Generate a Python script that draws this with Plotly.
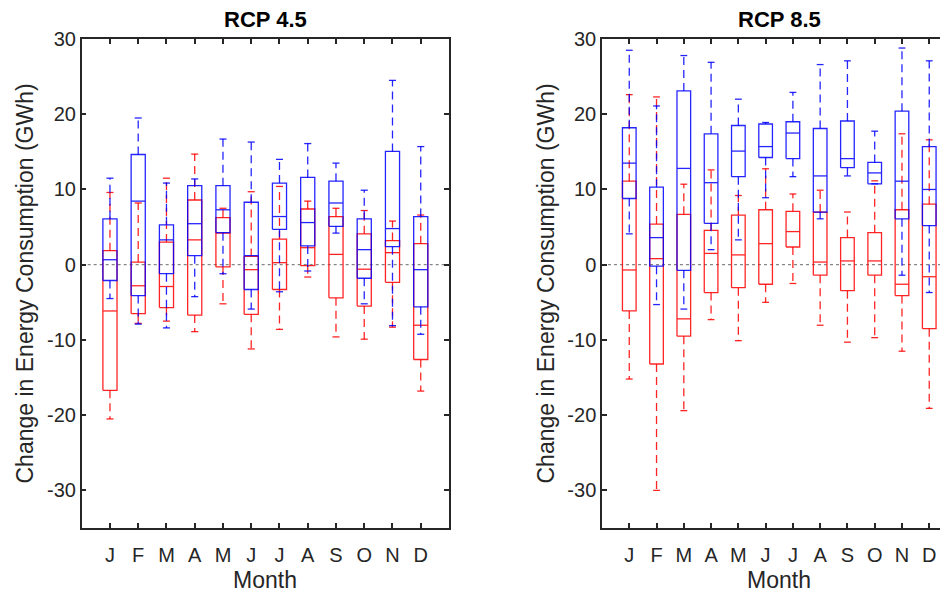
import plotly.graph_objects as go

months = ["J", "F", "M", "A", "M", "J", "J", "A", "S", "O", "N", "D"]

# RCP 4.5 - blue series (lower whisker, Q1, median, Q3, upper whisker)
rcp45_blue_lo  = [-4.5, -7.9, -8.4, -4.25, -1.2, -5.9, -3.6, -0.84, 4.2, -5.2, -8.1, -9.25]
rcp45_blue_q1  = [-2.1, -4.1, -1.2, 1.2, 4.25, -3.3, 4.7, 2.5, 5.1, -1.8, 2.4, -5.6]
rcp45_blue_med = [0.66, 8.45, 3.3, 5.45, 7.3, 1.2, 6.4, 5.6, 8.2, 2.0, 4.8, -0.66]
rcp45_blue_q3  = [6.1, 14.65, 5.3, 10.5, 10.5, 8.3, 10.85, 11.6, 11.1, 6.1, 15.05, 6.4]
rcp45_blue_hi  = [11.5, 19.5, 10.85, 11.4, 16.7, 16.3, 14.0, 16.1, 13.5, 9.9, 24.5, 15.7]

# RCP 4.5 - red series
rcp45_red_lo  = [-20.5, -7.8, -7.5, -8.9, -5.2, -11.2, -8.6, -1.64, -9.6, -9.9, -8.3, -16.8]
rcp45_red_q1  = [-16.7, -6.5, -5.7, -6.7, -0.3, -6.6, -3.3, -0.13, -4.4, -5.5, -2.35, -12.6]
rcp45_red_med = [-6.15, -2.8, -2.9, 3.3, 4.2, -0.66, 0.27, 2.26, 1.37, -0.6, 1.6, -8.05]
rcp45_red_q3  = [1.86, 0.35, 3.0, 8.6, 6.25, 1.1, 3.4, 7.4, 6.4, 4.1, 3.2, 2.8]
rcp45_red_hi  = [9.6, 8.2, 11.5, 14.7, 7.5, 9.7, 10.4, 8.45, 7.5, 7.2, 5.8, 6.6]

# RCP 8.5 - blue series
rcp85_blue_lo  = [4.1, -5.3, -5.9, 2.0, 3.3, 8.9, 11.7, 6.1, 11.8, 10.75, -1.4, -3.7]
rcp85_blue_q1  = [8.8, -0.2, -0.75, 5.5, 11.7, 14.25, 14.1, 7.0, 12.9, 10.75, 6.1, 5.2]
rcp85_blue_med = [13.5, 3.6, 12.8, 10.9, 15.1, 15.7, 17.5, 11.8, 14.1, 12.2, 11.1, 10.0]
rcp85_blue_q3  = [18.2, 10.3, 23.1, 17.4, 18.5, 18.7, 19.0, 18.1, 19.1, 13.6, 20.4, 15.7]
rcp85_blue_hi  = [28.5, 21.1, 27.8, 26.9, 22.0, 18.9, 22.9, 26.6, 27.1, 17.75, 28.8, 27.1]

# RCP 8.5 - red series
rcp85_red_lo  = [-15.2, -30.0, -19.4, -7.3, -10.1, -5.0, -2.5, -8.05, -10.3, -9.7, -11.5, -19.1]
rcp85_red_q1  = [-6.15, -13.2, -9.5, -3.7, -3.05, -2.6, 2.35, -1.4, -3.45, -1.4, -4.1, -8.5]
rcp85_red_med = [-0.7, 0.8, -7.2, 1.5, 1.3, 2.8, 4.4, 0.35, 0.5, 0.5, -2.6, -1.6]
rcp85_red_q3  = [11.1, 5.4, 6.7, 4.56, 6.6, 7.3, 7.1, 7.0, 3.6, 4.25, 7.3, 8.05]
rcp85_red_hi  = [22.6, 22.3, 10.7, 12.6, 9.2, 12.75, 9.4, 9.9, 7.0, 11.15, 17.4, 16.6]

yticks = [-30, -20, -10, 0, 10, 20, 30]
ytick_labels = ["-30", "-20", "-10", "0", "10", "20", "30"]

# the page body adds an 8px margin, so the figure is drawn 8px in from the corner
OFF = 8
W, H = 948 - OFF, 594 - OFF
BOX_W = 0.5
INK = "#262626"
FONT = "Arial, Liberation Sans, Helvetica, sans-serif"


def px_x(p):
    return (p - OFF) / W


def px_y(p):
    return 1 - (p - OFF) / H


def box_traces(lo, q1, med, q3, hi, color, xa, ya):
    bx, by, wx, wy, cx, cy = [], [], [], [], [], []
    for i in range(len(months)):
        x = i + 1
        l, r = x - BOX_W / 2, x + BOX_W / 2
        bx += [l, r, r, l, l, None, l, r, None]
        by += [q1[i], q1[i], q3[i], q3[i], q1[i], None, med[i], med[i], None]
        wx += [x, x, None, x, x, None]
        wy += [q3[i], hi[i], None, q1[i], lo[i], None]
        cl, cr = x - BOX_W / 4, x + BOX_W / 4
        cx += [cl, cr, None, cl, cr, None]
        cy += [hi[i], hi[i], None, lo[i], lo[i], None]
    common = dict(mode="lines", xaxis=xa, yaxis=ya, showlegend=False,
                  hoverinfo="skip", opacity=0.85)
    return [
        go.Scatter(x=bx, y=by, line=dict(color=color, width=1.3), **common),
        go.Scatter(x=wx, y=wy, line=dict(color=color, width=1.3, dash="8px,5px"), **common),
        go.Scatter(x=cx, y=cy, line=dict(color=color, width=1.3), **common),
    ]


fig = go.Figure()
for t in box_traces(rcp45_red_lo, rcp45_red_q1, rcp45_red_med, rcp45_red_q3, rcp45_red_hi, "#ff0000", "x", "y"):
    fig.add_trace(t)
for t in box_traces(rcp45_blue_lo, rcp45_blue_q1, rcp45_blue_med, rcp45_blue_q3, rcp45_blue_hi, "#0000ff", "x", "y"):
    fig.add_trace(t)
for t in box_traces(rcp85_red_lo, rcp85_red_q1, rcp85_red_med, rcp85_red_q3, rcp85_red_hi, "#ff0000", "x2", "y2"):
    fig.add_trace(t)
for t in box_traces(rcp85_blue_lo, rcp85_blue_q1, rcp85_blue_med, rcp85_blue_q3, rcp85_blue_hi, "#0000ff", "x2", "y2"):
    fig.add_trace(t)

# layout in reference-page pixels
L1, R1 = 81.7, 449.0
L2 = 602.0
SPACING2 = 27.27
TOP, BOT = 39.0, 528.0
ydom = [px_y(BOT), px_y(TOP)]

axis_common = dict(showline=True, linewidth=1.5, linecolor=INK, ticks="inside",
                   ticklen=5, tickwidth=1.5, tickcolor=INK, showgrid=False,
                   zeroline=False, automargin=False,
                   tickfont=dict(family=FONT, size=20, color=INK))

fig.update_layout(
    template="none",
    width=W, height=H,
    margin=dict(l=0, r=0, t=0, b=0, pad=0),
    paper_bgcolor="white", plot_bgcolor="white",
    showlegend=False,
    xaxis=dict(domain=[px_x(L1), px_x(R1)], range=[0, 13], tickmode="array",
               tickvals=list(range(1, 13)), ticktext=months, mirror="ticks",
               ticklabelstandoff=8, anchor="y", **axis_common),
    yaxis=dict(domain=ydom, range=[-35, 30], tickmode="array", tickvals=yticks,
               ticktext=ytick_labels, mirror="ticks", ticklabelstandoff=0,
               anchor="x", **axis_common),
    xaxis2=dict(domain=[px_x(L2), 1.0], range=[0, (948 - L2) / SPACING2], tickmode="array",
                tickvals=list(range(1, 13)), ticktext=months, mirror="ticks",
                ticklabelstandoff=8, anchor="y2", **axis_common),
    yaxis2=dict(domain=ydom, range=[-35, 30], tickmode="array", tickvals=yticks,
                ticktext=ytick_labels, mirror=False, ticklabelstandoff=0,
                anchor="x2", **axis_common),
)

# zero reference lines
for xr, yr in (("x domain", "y"), ("x2 domain", "y2")):
    fig.add_shape(type="line", xref=xr, yref=yr, x0=0, x1=1, y0=0, y1=0,
                  line=dict(color="rgba(90,90,90,0.9)", width=1, dash="dot"), layer="below")

# titles and axis labels
c1 = px_x((L1 + R1) / 2)
c2 = px_x(L2 + 13 * SPACING2 / 2)
ann = []
for cx, title in ((c1, "RCP 4.5"), (c2, "RCP 8.5")):
    ann.append(dict(x=cx, y=px_y(20), xref="paper", yref="paper", text="<b>" + title + "</b>",
                    showarrow=False, xanchor="center", yanchor="middle",
                    font=dict(family=FONT, size=22, color="black")))
    ann.append(dict(x=cx, y=px_y(580), xref="paper", yref="paper", text="Month",
                    showarrow=False, xanchor="center", yanchor="middle",
                    font=dict(family=FONT, size=23, color=INK)))
for lx in (24, 545):
    ann.append(dict(x=px_x(lx), y=px_y(283.5), xref="paper", yref="paper",
                    text="Change in Energy Consumption (GWh)", textangle=-90,
                    showarrow=False, xanchor="center", yanchor="middle",
                    font=dict(family=FONT, size=23, color=INK)))
fig.update_layout(annotations=ann)

fig.write_html("out.html")
